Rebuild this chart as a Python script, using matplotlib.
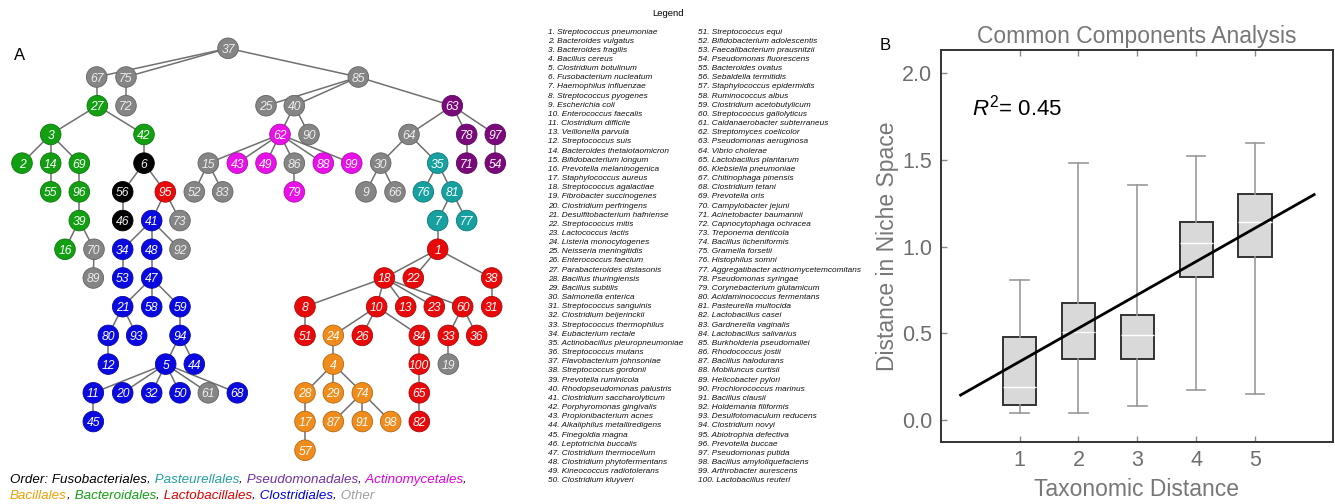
import matplotlib
matplotlib.use("Agg")
import matplotlib.pyplot as plt
from matplotlib.collections import LineCollection
from matplotlib.colors import to_rgb

plt.rcParams.update({
    "font.family": ["Liberation Sans", "DejaVu Sans"],
    "mathtext.fontset": "custom",
    "mathtext.rm": "Liberation Sans",
    "mathtext.it": "Liberation Sans:italic",
})

W, H = 1335, 504

# ===================== data: panel A (tree) =====================
tree_children = {
    37: [67, 75, 85], 75: [72], 67: [27], 27: [3, 42],
    3: [2, 14, 69], 14: [55], 69: [96], 96: [39], 39: [16, 70], 70: [89],
    42: [6], 6: [56, 95], 56: [46], 95: [41, 73], 41: [34, 48, 92],
    34: [53], 48: [47], 47: [21, 58, 59], 21: [80, 93], 80: [12], 59: [94],
    94: [5, 44], 5: [11, 20, 32, 50, 61, 68], 11: [45],
    85: [25, 40, 63], 40: [62, 90], 62: [15, 43, 49, 86, 88, 99],
    15: [52, 83], 86: [79], 63: [64, 78, 97], 64: [30, 35], 30: [9, 66],
    35: [76, 81], 81: [7, 77], 7: [1], 78: [71], 97: [54],
    1: [18, 22, 38], 38: [31], 18: [8, 10, 13, 23, 60], 8: [51],
    10: [24, 26, 84], 24: [4], 4: [28, 29, 74], 28: [17], 17: [57],
    74: [87, 91, 98], 84: [100], 100: [65], 65: [82], 60: [33, 36], 33: [19],
}

fusobacteriales = [6, 56, 46]
pasteurellales = [35, 76, 81, 7, 77]
pseudomonadales = [63, 78, 97, 71, 54]
actinomycetales = [62, 43, 49, 88, 99, 79]
bacillales = [24, 4, 28, 29, 74, 17, 87, 91, 98, 57]
bacteroidales = [27, 3, 42, 2, 14, 69, 55, 96, 39, 16]
lactobacillales = [95, 1, 18, 22, 38, 8, 10, 13, 23, 60, 31, 51, 26, 84,
                   33, 36, 100, 65, 82]
clostridiales = [41, 34, 48, 53, 47, 21, 58, 59, 80, 93, 94, 12, 5, 44,
                 11, 20, 32, 50, 68, 45]

legend_col1 = [
    "1. Streptococcus pneumoniae", "2. Bacteroides vulgatus", "3. Bacteroides fragilis",
    "4. Bacillus cereus", "5. Clostridium botulinum", "6. Fusobacterium nucleatum",
    "7. Haemophilus influenzae", "8. Streptococcus pyogenes", "9. Escherichia coli",
    "10. Enterococcus faecalis", "11. Clostridium difficile", "13. Veillonella parvula",
    "12. Streptococcus suis", "14. Bacteroides thetaiotaomicron", "15. Bifidobacterium longum",
    "16. Prevotella melaninogenica", "17. Staphylococcus aureus", "18. Streptococcus agalactiae",
    "19. Fibrobacter succinogenes", "20. Clostridium perfringens", "21. Desulfitobacterium hafniense",
    "22. Streptococcus mitis", "23. Lactococcus lactis", "24. Listeria monocytogenes",
    "25. Neisseria meningitidis", "26. Enterococcus faecium", "27. Parabacteroides distasonis",
    "28. Bacillus thuringiensis", "29. Bacillus subtilis", "30. Salmonella enterica",
    "31. Streptococcus sanguinis", "32. Clostridium beijerinckii", "33. Streptococcus thermophilus",
    "34. Eubacterium rectale", "35. Actinobacillus pleuropneumoniae", "36. Streptococcus mutans",
    "37. Flavobacterium johnsoniae", "38. Streptococcus gordonii", "39. Prevotella ruminicola",
    "40. Rhodopseudomonas palustris", "41. Clostridium saccharolyticum", "42. Porphyromonas gingivalis",
    "43. Propionibacterium acnes", "44. Alkaliphilus metalliredigens", "45. Finegoldia magna",
    "46. Leptotrichia buccalis", "47. Clostridium thermocellum", "48. Clostridium phytofermentans",
    "49. Kineococcus radiotolerans", "50. Clostridium kluyveri",
]
legend_col2 = [
    "51. Streptococcus equi", "52. Bifidobacterium adolescentis", "53. Faecalibacterium prausnitzii",
    "54. Pseudomonas fluorescens", "55. Bacteroides ovatus", "56. Sebaldella termitidis",
    "57. Staphylococcus epidermidis", "58. Ruminococcus albus", "59. Clostridium acetobutylicum",
    "60. Streptococcus gallolyticus", "61. Caldanaerobacter subterraneus", "62. Streptomyces coelicolor",
    "63. Pseudomonas aeruginosa", "64. Vibrio cholerae", "65. Lactobacillus plantarum",
    "66. Klebsiella pneumoniae", "67. Chitinophaga pinensis", "68. Clostridium tetani",
    "69. Prevotella oris", "70. Campylobacter jejuni", "71. Acinetobacter baumannii",
    "72. Capnocytophaga ochracea", "73. Treponema denticola", "74. Bacillus licheniformis",
    "75. Gramella forsetii", "76. Histophilus somni", "77. Aggregatibacter actinomycetemcomitans",
    "78. Pseudomonas syringae", "79. Corynebacterium glutamicum", "80. Acidaminococcus fermentans",
    "81. Pasteurella multocida", "82. Lactobacillus casei", "83. Gardnerella vaginalis",
    "84. Lactobacillus salivarius", "85. Burkholderia pseudomallei", "86. Rhodococcus jostii",
    "87. Bacillus halodurans", "88. Mobiluncus curtisii", "89. Helicobacter pylori",
    "90. Prochlorococcus marinus", "91. Bacillus clausii", "92. Holdemania filiformis",
    "93. Desulfotomaculum reducens", "94. Clostridium novyi", "95. Abiotrophia defectiva",
    "96. Prevotella buccae", "97. Pseudomonas putida", "98. Bacillus amyloliquefaciens",
    "99. Arthrobacter aurescens", "100. Lactobacillus reuteri",
]

# ===================== data: panel B (boxplot) =====================
tax_distance = [1, 2, 3, 4, 5]
box_whislo = [0.042, 0.042, 0.081, 0.173, 0.148]
box_q1 = [0.087, 0.350, 0.350, 0.827, 0.938]
box_med = [0.192, 0.510, 0.488, 1.019, 1.142]
box_q3 = [0.481, 0.677, 0.606, 1.144, 1.302]
box_whishi = [0.808, 1.481, 1.358, 1.523, 1.598]
fit_x = [0.0, 6.0]
fit_y = [0.144, 1.300]
r2_value = 0.45

# ===================== layout of tree (x in px, row level) =====================
node_pos = {
    37: (228, 0),
    67: (96.7, 1), 75: (126, 1), 85: (358.3, 1),
    72: (126, 2), 27: (97.3, 2), 25: (266, 2), 40: (294.3, 2), 63: (452.3, 2),
    3: (50.7, 3), 42: (144, 3), 62: (280, 3), 90: (309, 3), 64: (409, 3),
    78: (466.7, 3), 97: (495.3, 3),
    2: (22, 4), 14: (50.7, 4), 69: (79.3, 4), 6: (144, 4), 15: (208.3, 4),
    43: (237.3, 4), 49: (266, 4), 86: (294.3, 4), 88: (323.3, 4), 99: (351.7, 4),
    30: (380.7, 4), 35: (437.7, 4), 71: (466.7, 4), 54: (495.3, 4),
    55: (50.7, 5), 96: (79.3, 5), 56: (122.7, 5), 95: (165.3, 5), 52: (194.3, 5),
    83: (222.7, 5), 79: (294.3, 5), 9: (366, 5), 66: (395, 5), 76: (423.3, 5),
    81: (452, 5),
    39: (79.3, 6), 46: (122.7, 6), 41: (151.7, 6), 73: (180, 6), 7: (437.7, 6),
    77: (466.7, 6),
    16: (65, 7), 70: (94, 7), 34: (122.7, 7), 48: (151.7, 7), 92: (180, 7),
    1: (437.7, 7),
    89: (93.3, 8), 53: (122.7, 8), 47: (151.7, 8), 18: (384.3, 8), 22: (413.3, 8),
    38: (491.7, 8),
    21: (122.7, 9), 58: (151.7, 9), 59: (180, 9), 8: (305, 9), 10: (376.7, 9),
    13: (405.7, 9), 23: (434.3, 9), 60: (462.7, 9), 31: (491.7, 9),
    80: (108.3, 10), 93: (136.7, 10), 94: (180, 10), 51: (305, 10), 24: (333.3, 10),
    26: (362.3, 10), 84: (419.3, 10), 33: (448.3, 10), 36: (476.7, 10),
    12: (108.3, 11), 5: (165.7, 11), 44: (194.3, 11), 4: (333.3, 11),
    100: (419.3, 11), 19: (448.3, 11),
    11: (93.3, 12), 20: (122.7, 12), 32: (151.7, 12), 50: (180, 12), 61: (208.3, 12),
    68: (237.3, 12), 28: (305, 12), 29: (333.3, 12), 74: (362.3, 12), 65: (419.3, 12),
    45: (93.3, 13), 17: (305, 13), 87: (333.3, 13), 91: (362.3, 13), 98: (390.7, 13),
    82: (419.3, 13),
    57: (305, 14),
}

order_colors = [
    (fusobacteriales, "#000000"),
    (pasteurellales, "#16a0a0"),
    (pseudomonadales, "#7a0a7a"),
    (actinomycetales, "#e812e8"),
    (bacillales, "#f08c1c"),
    (bacteroidales, "#12a012"),
    (lactobacillales, "#e80a0a"),
    (clostridiales, "#0a0ae0"),
]
other_color = "#858585"


def darker(c, f=0.75):
    r, g, b = to_rgb(c)
    return (r * f, g * f, b * f)


fig = plt.figure(figsize=(W / 100, H / 100), dpi=100)

# ---- panel A ----
row0, row_step = 48.3, 28.71
ax_t = fig.add_axes([0, 0, 1, 1])
ax_t.set_xlim(0, W)
ax_t.set_ylim((H - row0) / row_step, -row0 / row_step)
ax_t.axis("off")

segs = []
for parent, kids in tree_children.items():
    for k in kids:
        segs.append([node_pos[parent], node_pos[k]])
ax_t.add_collection(LineCollection(segs, colors="#707070", linewidths=1.1, zorder=1))

node_color = {}
for members, col in order_colors:
    for n in members:
        node_color[n] = col

nodes = sorted(node_pos)
xs = [node_pos[n][0] for n in nodes]
ys = [node_pos[n][1] for n in nodes]
cols = [node_color.get(n, other_color) for n in nodes]
ax_t.scatter(xs, ys, s=220, c=cols, edgecolors=[darker(c) for c in cols],
             linewidths=0.6, zorder=2)
for n, x, y, c in zip(nodes, xs, ys, cols):
    tc = "#eeeeee" if c in (other_color, "#000000") else "white"
    ax_t.text(x, y, str(n), ha="center", va="center_baseline", fontsize=8.7,
              style="italic", color=tc, zorder=3)

fig.text(20 / W, 1 - 55 / H, "A", fontsize=12, ha="center", va="center")

# legend of species
fig.text(668 / W, 1 - 13 / H, "Legend", fontsize=6.8, ha="center", va="center")
for col_x, names in [(548, legend_col1), (698, legend_col2)]:
    for i, name in enumerate(names):
        fig.text(col_x / W, 1 - (32 + i * 9.16) / H, name, fontsize=5.95,
                 style="italic", ha="left", va="center", color="#111111")

# colored order line
renderer = fig.canvas.get_renderer()


def colored_line(x_px, y_px, parts, size=9.6):
    x = x_px
    for s, c in parts:
        t = fig.text(x / W, 1 - y_px / H, s, color=c, fontsize=size,
                     style="italic", ha="left", va="center")
        x += t.get_window_extent(renderer).width


k = "#000000"
colored_line(10, 480, [("Order: Fusobacteriales", k), (",", k),
                       (" Pasteurellales", "#20a0a0"), (",", k),
                       (" Pseudomonadales", "#7030a0"), (",", k),
                       (" Actinomycetales", "#e000e0"), (",", k)])
colored_line(10, 496, [("Bacillales", "#f0a000"), (",", k),
                       (" Bacteroidales", "#10a010"), (",", k),
                       (" Lactobacillales", "#e00000"), (",", k),
                       (" Clostridiales", "#0000e0"), (",", k),
                       (" Other", "#a0a0a0")])

# ---- panel B ----
left, right, top, bottom = 940.7, 1333, 50, 441.7
ax = fig.add_axes([left / W, 1 - bottom / H, (right - left) / W, (bottom - top) / H])
stats = [dict(med=m, q1=a, q3=b, whislo=lo, whishi=hi)
         for m, a, b, lo, hi in zip(box_med, box_q1, box_q3, box_whislo, box_whishi)]
ax.bxp(stats, positions=tax_distance, widths=0.57, capwidths=0.31,
       patch_artist=True, showfliers=False,
       boxprops=dict(facecolor="#d9d9d9", edgecolor="#333333", linewidth=1.4),
       whiskerprops=dict(color="#999999", linewidth=1.2),
       capprops=dict(color="#999999", linewidth=1.2),
       medianprops=dict(color="white", linewidth=1.0))
ax.plot(fit_x, fit_y, color="black", linewidth=2.0, zorder=5)
ax.text(0.2, 1.80, "$R^2$= " + f"{r2_value:.2f}", fontsize=16, ha="left", va="center")

ax.set_xlim(-0.338, 6.32)
ax.set_ylim(-0.125, 2.134)
ax.set_xticks(tax_distance)
ax.set_yticks([0.0, 0.5, 1.0, 1.5, 2.0])
ax.set_yticklabels([f"{v:.1f}" for v in [0.0, 0.5, 1.0, 1.5, 2.0]])
ax.tick_params(direction="in", length=4, width=1, color="#888888",
               labelcolor="#6e6e6e", labelsize=15.5, pad=6, top=True)
for sp in ax.spines.values():
    sp.set_color("#333333")
    sp.set_linewidth(1.4)
ax.set_title("Common Components Analysis", color="#777777", fontsize=16.5, pad=5)
ax.set_ylabel("Distance in Niche Space", color="#777777", fontsize=16.5, labelpad=2)
ax.set_xlabel("Taxonomic Distance", color="#777777", fontsize=16.5, labelpad=5)
fig.text(885 / W, 1 - 46 / H, "B", fontsize=12, ha="center", va="center")

fig.savefig("out.png", dpi=100)
